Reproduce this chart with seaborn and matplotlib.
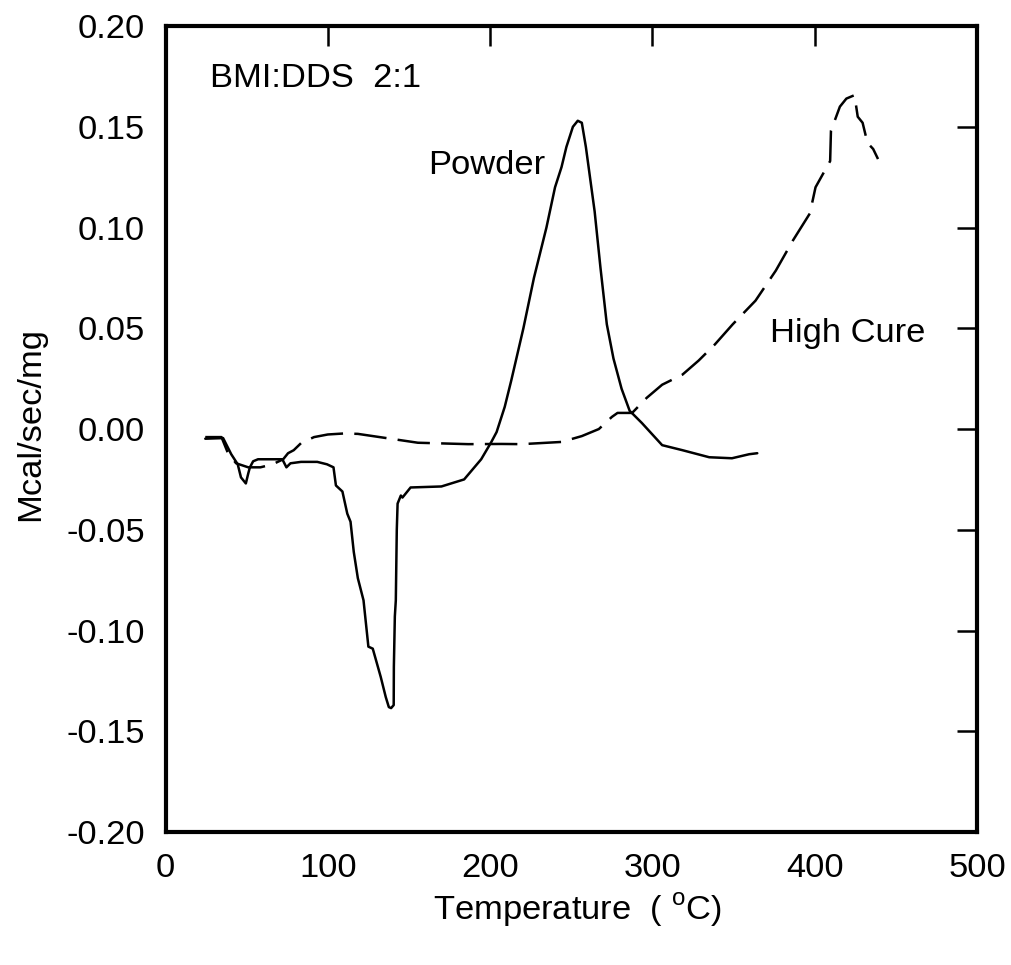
import matplotlib
matplotlib.use("Agg")
import matplotlib.pyplot as plt
import numpy as np
import pandas as pd
import seaborn as sns

# DSC traces for BMI:DDS 2:1 (temperature in deg C, heat flow in Mcal/sec/mg)
powder_temp = [24.5, 35.5, 40.5, 44.5, 46.5, 49.5, 51, 52, 54, 57, 72, 74.5, 77,
               83.5, 93.5, 99.5, 103.5, 105, 109, 112, 114, 116, 118.5, 122, 125,
               127.7, 132.6, 135.7, 137.6, 139, 140.6, 140.7, 141.3, 141.9, 142.5,
               143, 145, 146, 151, 170, 184, 194.5, 200.7, 204, 209, 213, 220.5,
               227, 234.7, 240, 244, 247, 251, 254, 256.5, 259, 264.4, 268, 271.9,
               276, 281, 286, 287.3, 293.5, 306, 318.5, 335, 349, 359.6, 364.6]
powder_heat = [-0.0048, -0.0045, -0.0125, -0.0175, -0.024, -0.027, -0.022, -0.019,
               -0.016, -0.015, -0.015, -0.019, -0.017, -0.0163, -0.0163, -0.0175,
               -0.019, -0.028, -0.031, -0.042, -0.046, -0.061, -0.074, -0.085,
               -0.108, -0.109, -0.123, -0.133, -0.138, -0.1385, -0.137, -0.118,
               -0.093, -0.085, -0.05, -0.037, -0.033, -0.034, -0.029, -0.0285,
               -0.025, -0.015, -0.0065, -0.0015, 0.011, 0.024, 0.05, 0.075, 0.10,
               0.12, 0.13, 0.14, 0.15, 0.153, 0.152, 0.14, 0.108, 0.08, 0.052,
               0.035, 0.02, 0.009, 0.008, 0.003, -0.008, -0.0105, -0.014, -0.0145,
               -0.0125, -0.012]

cure_temp = [24.5, 34.5, 38.5, 43.5, 51, 58.5, 66, 72.5, 75.5, 79, 83.5, 91.5, 100,
             110, 118.5, 134.5, 155.5, 186.5, 207, 219.5, 244, 256.5, 267, 275,
             278.5, 287.5, 296.5, 306, 318.5, 328.5, 338.5, 349.5, 363.5, 376,
             386.5, 397, 400.5, 409.5, 410, 415.5, 419.5, 424.5, 426.5, 429.5,
             432.5, 436, 439]
cure_heat = [-0.004, -0.004, -0.012, -0.017, -0.019, -0.019, -0.0175, -0.015,
             -0.012, -0.0105, -0.007, -0.004, -0.0027, -0.0022, -0.0024, -0.0043,
             -0.0068, -0.0075, -0.0074, -0.0075, -0.0064, -0.0035, 0.0, 0.006,
             0.008, 0.008, 0.0155, 0.022, 0.027, 0.034, 0.042, 0.052, 0.0637,
             0.0786, 0.0935, 0.107, 0.12, 0.133, 0.148, 0.16, 0.164, 0.1657,
             0.155, 0.152, 0.142, 0.139, 0.134]

x_ticks = [0, 100, 200, 300, 400, 500]
y_ticks = [-0.20, -0.15, -0.10, -0.05, 0.00, 0.05, 0.10, 0.15, 0.20]

FS = 24.8

sns.set_theme(style="white")
plt.rcParams['font.family'] = ['Liberation Sans', 'DejaVu Sans']
plt.rcParams['mathtext.fontset'] = 'custom'
plt.rcParams['mathtext.rm'] = 'Liberation Sans'
for key in ("text.color", "axes.labelcolor", "xtick.color", "ytick.color",
            "axes.edgecolor"):
    plt.rcParams[key] = "black"

df = pd.concat([
    pd.DataFrame({"temp": powder_temp, "heat": powder_heat, "sample": "Powder"}),
    pd.DataFrame({"temp": cure_temp, "heat": cure_heat, "sample": "High Cure"}),
], ignore_index=True)

fig = plt.figure(figsize=(10.11, 9.65), dpi=100)
ax = fig.add_axes([0.1637, 0.1378, 0.8027, 0.8352])

sns.lineplot(data=df, x="temp", y="heat", style="sample",
             dashes={"Powder": "", "High Cure": (13, 4.5)},
             color="black", linewidth=1.8, sort=False, estimator=None,
             legend=False, ax=ax)

ax.set_xlim(0, 500)
ax.set_ylim(-0.2, 0.2)
ax.set_xticks(x_ticks)
ax.set_xticklabels([str(v) for v in x_ticks])
ax.set_yticks(y_ticks)
ax.set_yticklabels([f"{abs(v):.2f}" if abs(v) < 1e-9 else f"{v:.2f}" for v in y_ticks])

ax.tick_params(axis="both", direction="in", length=14.5, width=1.8, colors="black",
               labelsize=FS, top=True, right=True)
ax.tick_params(axis="x", pad=15)
ax.tick_params(axis="y", pad=15)

for spine in ax.spines.values():
    spine.set_linewidth(3)
    spine.set_color("black")

ax.set_ylabel("Mcal/sec/mg", fontsize=FS, va="center")
ax.yaxis.set_label_coords(-0.1657, 0.506)
ax.set_xlabel("Temperature  ( $^{\\mathrm{o}}$C)", fontsize=FS, va="baseline")
ax.xaxis.set_label_coords(0.507, -0.1092)

ax.text(27.5, 0.174, "BMI:DDS  2:1", fontsize=FS, va="center")
ax.text(162, 0.131, "Powder", fontsize=FS, va="center")
ax.text(372.6, 0.0476, "High Cure", fontsize=FS, va="center")

fig.savefig("out.png", dpi=100, facecolor="white")
